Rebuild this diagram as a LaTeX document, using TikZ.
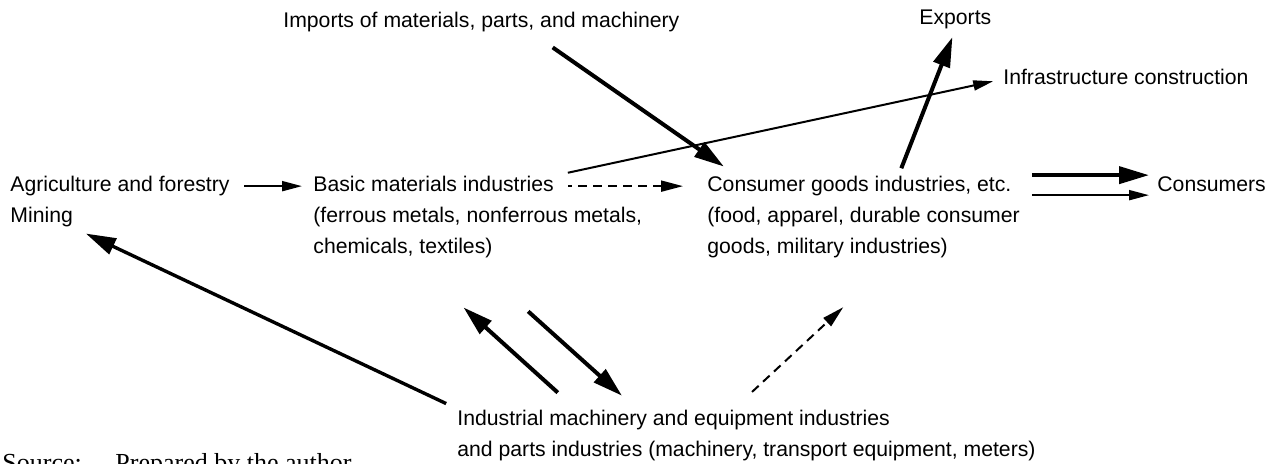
\documentclass[tikz,border=0pt]{standalone}
\usepackage{fontspec}
\newfontfamily\lblfont{Liberation Sans}
\newfontfamily\notefont{Liberation Serif}
\usetikzlibrary{arrows.meta}
\tikzset{
    %Define standard arrow tip
    >={Triangle[length=10pt,width=5pt]},
    lbl/.style={
      font=\lblfont\fontsize{10.6}{15.5}\selectfont,
      inner sep=0pt,
      anchor=base west,
      text height=7.95pt,
      text depth=2.1pt},
    note/.style={
      font=\notefont\fontsize{13}{15}\selectfont,
      inner sep=0pt,
      anchor=base west},
    flow/.style={
      ->,
      line width=1pt},
    bigflow/.style={
      -{Triangle[length=15pt,width=8.5pt]},
      line width=2pt},
    weak/.style={
      -{Triangle[length=11pt,width=5.5pt]},
      line width=1pt,
      dash pattern=on 4.5pt off 3pt},
}

\begin{document}
\begin{tikzpicture}[x=0.5pt,y=-0.5pt]
    \useasboundingbox (0,0) rectangle (1273,464);
    % top row
    \node (imports) [lbl] at (283,28)
          {Imports of materials, parts, and machinery};
    \node (exports) [lbl] at (919,25)
          {Exports};
    \node (infra) [lbl] at (1003,85)
          {Infrastructure construction};
    % middle row
    \node (agri) [lbl] at (10,192)
          {Agriculture and forestry};
    \node (mining) [lbl] at ([yshift=-15.5pt]agri.base west)
          {Mining};
    \node (basic) [lbl] at (313,192)
          {Basic materials industries}
          edge [flow,<-,shorten <=5.5pt,shorten >=7pt] (agri);
    \node (basic2) [lbl] at ([yshift=-15.5pt]basic.base west)
          {(ferrous metals, nonferrous metals,};
    \node (basic3) [lbl] at ([yshift=-15.5pt]basic2.base west)
          {chemicals, textiles)};
    \node (cons) [lbl] at (707,192)
          {Consumer goods industries, etc.}
          edge [weak,{Triangle[length=11pt,width=5.5pt]}-,shorten <=12pt,shorten >=7pt] (basic);
    \node (cons2) [lbl] at ([yshift=-15.5pt]cons.base west)
          {(food, apparel, durable consumer};
    \node (cons3) [lbl] at ([yshift=-15.5pt]cons2.base west)
          {goods, military industries)};
    \node (consumers) [lbl] at (1157,192)
          {Consumers};
    % bottom
    \node (indus) [lbl] at (457,425)
          {Industrial machinery and equipment industries};
    \node (indus2) [lbl] at ([yshift=-15.5pt]indus.base west)
          {and parts industries (machinery, transport equipment, meters)};
    \node (src) [note] at (2,471)
          {Source:};
    \node (srctext) [note] at (115,471)
          {Prepared by the author};

    \draw [flow,shorten <=7pt,shorten >=5pt] (basic.north east) -- (infra.west);
    \draw [bigflow,shorten <=13pt,shorten >=8pt]
          ([xshift=25pt]imports.south) -- ([xshift=15pt]cons.north west);
    \draw [bigflow,shorten <=4pt,shorten >=4pt]
          ([xshift=19.5pt]cons.north) -- (exports.south);
    \draw [bigflow,shorten <=10pt,shorten >=4pt]
          ([yshift=5.5pt]cons.east) -- ([yshift=5.5pt]consumers.west);
    \draw [flow,shorten <=10pt,shorten >=4pt]
          ([yshift=-4.5pt]cons.east) -- ([yshift=-4.5pt]consumers.west);
    \draw [bigflow,line width=1.7pt,shorten <=6pt,shorten >=7pt]
          (indus.north west) -- (mining.south east);
    \draw [bigflow,shorten <=12pt,shorten >=36.4pt]
          ([xshift=59.3pt]indus.north west) -- ([xshift=3.25pt]basic3.south);
    \draw [bigflow,shorten <=39.5pt,shorten >=9.7pt]
          ([xshift=33.25pt]basic3.south) -- ([xshift=89.7pt]indus.north west);
    \draw [weak,shorten <=12.3pt,shorten >=35.7pt]
          ([xshift=138.5pt]indus.north west) -- ([xshift=34pt]cons3.south);
\end{tikzpicture}
\end{document}
